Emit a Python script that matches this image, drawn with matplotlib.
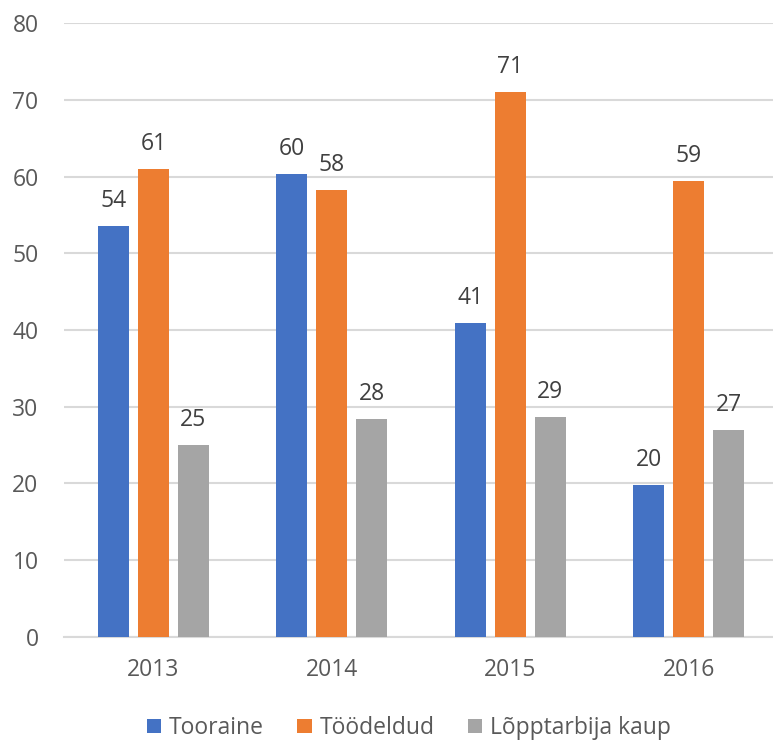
import matplotlib
matplotlib.use("Agg")
import matplotlib.pyplot as plt
import numpy as np

years = ["2013", "2014", "2015", "2016"]
series_names = ["Tooraine", "Töödeldud", "Lõpptarbija kaup"]
tooraine = [53.6, 60.3, 40.9, 19.8]
toodeldud = [61.0, 58.3, 71.0, 59.4]
lopptarbija = [25.0, 28.4, 28.6, 27.0]
colors = ["#4472C4", "#ED7D31", "#A5A5A5"]
y_ticks = [0, 10, 20, 30, 40, 50, 60, 70, 80]

plt.rcParams["font.family"] = ["Open Sans", "DejaVu Sans"]
FS = 16.5

fig = plt.figure(figsize=(7.73, 7.41), dpi=100)
ax = fig.add_axes([64.3 / 773, 104.3 / 741, 713.7 / 773, 613.4 / 741])

x = np.arange(len(years))
offset = 0.224
width = 0.174
all_series = [tooraine, toodeldud, lopptarbija]
handles = []
for i, (vals, col, name) in enumerate(zip(all_series, colors, series_names)):
    bars = ax.bar(x + (i - 1) * offset, vals, width, color=col, label=name, zorder=3)
    handles.append(bars)
    for xi, v in zip(x + (i - 1) * offset, vals):
        ax.annotate(f"{v:.0f}", (xi, v), xytext=(0, 19), textcoords="offset pixels",
                    ha="center", va="baseline", fontsize=FS, color="#404040")

ax.set_xlim(-0.5, 3.5)
ax.set_ylim(0, 80)
ax.set_yticks(y_ticks)
ax.set_xticks(x)
ax.set_xticklabels(years)
ax.yaxis.grid(True, color="#D9D9D9", linewidth=1.5, zorder=0)
ax.set_axisbelow(True)
for s in ["top", "right", "left"]:
    ax.spines[s].set_visible(False)
ax.spines["bottom"].set_color("#D9D9D9")
ax.spines["bottom"].set_linewidth(1.5)
ax.tick_params(axis="both", length=0, labelsize=FS, labelcolor="#595959")
ax.tick_params(axis="y", pad=18.5)
ax.tick_params(axis="x", pad=15)

fig.legend(handles=handles, labels=series_names, loc="center",
           bbox_to_anchor=(409 / 773, 1 - 728 / 741), ncol=3, frameon=False,
           fontsize=FS, labelcolor="#595959", handlelength=0.62, handleheight=0.62,
           handletextpad=0.35, columnspacing=1.45)

fig.savefig("out.png", dpi=100)
